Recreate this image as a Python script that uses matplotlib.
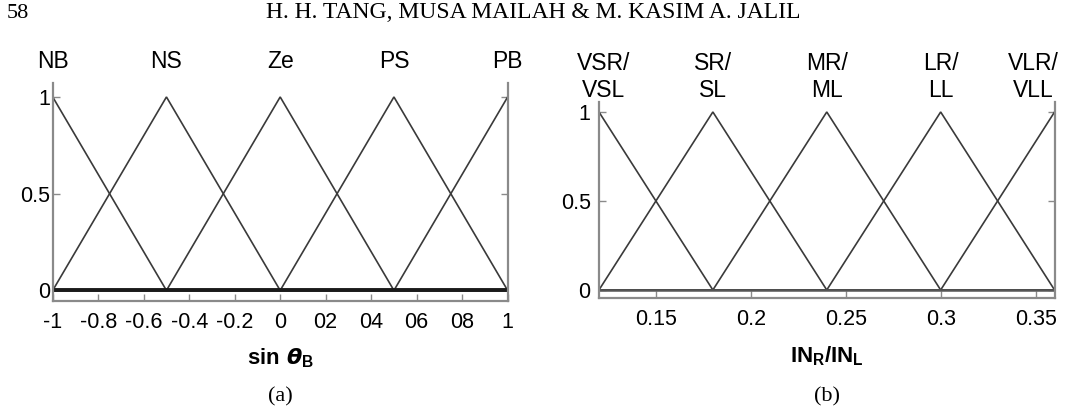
import numpy as np
import matplotlib.pyplot as plt

# membership function data
names_a = ['NB', 'NS', 'Ze', 'PS', 'PB']
centers_a = [-1.0, -0.5, 0.0, 0.5, 1.0]
width_a = 0.5
xticks_a = [-1, -0.8, -0.6, -0.4, -0.2, 0, 0.2, 0.4, 0.6, 0.8, 1]
xticklabels_a = ['-1', '-0.8', '-0.6', '-0.4', '-0.2', '0', '02', '04', '06', '08', '1']

names_b = ['VSR/\nVSL', 'SR/\nSL', 'MR/\nML', 'LR/\nLL', 'VLR/\nVLL']
centers_b = [0.12, 0.18, 0.24, 0.30, 0.36]
width_b = 0.06
xticks_b = [0.15, 0.2, 0.25, 0.3, 0.35]
xticklabels_b = ['0.15', '0.2', '0.25', '0.3', '0.35']

yticks = [0, 0.5, 1]
yticklabels = ['0', '0.5', '1']

plt.rcParams['font.family'] = ['Liberation Sans', 'DejaVu Sans']
plt.rcParams['mathtext.fontset'] = 'custom'
plt.rcParams['mathtext.bf'] = 'Liberation Sans:bold'
plt.rcParams['mathtext.rm'] = 'Liberation Sans'

fig = plt.figure(figsize=(10.69, 4.17), dpi=100)

line_col = '#3a3a3a'
spine_col = '#8a8a8a'


def trimf(x, c, w):
    return np.clip(1 - np.abs(x - c) / w, 0, 1)


def panel(rect, names, centers, w, ylim, xticks, xticklabels, zero_lw, zero_col,
          xlabel, tag, lab_dy, lab_dx, ypad):
    ax = fig.add_axes(rect)
    lo, hi = centers[0], centers[-1]
    for c in centers:
        x = np.array(sorted(set([lo, max(lo, c - w), c, min(hi, c + w), hi])))
        ax.plot(x, trimf(x, c, w), color=line_col, lw=1.2, solid_joinstyle='miter')
    ax.plot([lo, hi], [0, 0], color=zero_col, lw=zero_lw)
    ax.set_xlim(lo, hi)
    ax.set_ylim(*ylim)
    for s in ['left', 'right', 'bottom']:
        ax.spines[s].set_color(spine_col)
        ax.spines[s].set_linewidth(1.6)
    ax.spines['top'].set_visible(False)
    ax.set_xticks(xticks)
    ax.set_xticklabels(xticklabels)
    ax.set_yticks(yticks)
    ax.set_yticklabels(yticklabels)
    ax.tick_params(direction='in', length=5, width=1, color=spine_col,
                   labelsize=15.5, right=True)
    ax.tick_params(axis='x', pad=8)
    ax.tick_params(axis='y', pad=ypad)
    for c, n, dx in zip(centers, names, lab_dx):
        ax.annotate(n, (c, 1), xytext=(dx, lab_dy), textcoords='offset pixels',
                    ha='center', va='baseline', fontsize=16.5, linespacing=1.2,
                    annotation_clip=False)
    ax.set_xlabel(xlabel, fontsize=16, fontweight='bold', labelpad=10)
    x0 = rect[0] + rect[2] / 2
    fig.text(x0, 1 - 397 / 417, tag, ha='center', va='center',
             fontsize=16, family='Liberation Serif')
    return ax


panel([0.0493, 0.2789, 0.4256, 0.522], names_a, centers_a, width_a, (-0.053, 1.072),
      xticks_a, xticklabels_a, 2.8, '#1a1a1a',
      r'$\mathbf{sin}\ \boldsymbol{\theta}_{\mathbf{B}}$',
      '(a)', 29, [0, 0, 0, 0, 0], 2)
panel([0.5603, 0.2854, 0.4262, 0.470], names_b, centers_b, width_b, (-0.045, 1.056),
      xticks_b, xticklabels_b, 1.8, '#555555', r'$\mathbf{IN_R/IN_L}$', '(b)',
      15, [5, 0, 0, 0, -21], 6)

fig.text(7 / 1069, 1 - 13 / 417, '58', ha='left', va='center', fontsize=16,
         family='Liberation Serif')
fig.text(533 / 1069, 1 - 13 / 417, 'H. H. TANG, MUSA MAILAH & M. KASIM A. JALIL',
         ha='center', va='center', fontsize=17, family='Liberation Serif')

fig.savefig('out.png', dpi=100)
